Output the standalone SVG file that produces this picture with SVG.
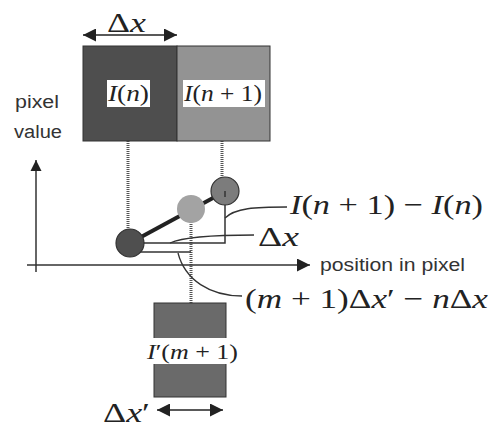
<svg xmlns="http://www.w3.org/2000/svg" width="494" height="427" viewBox="0 0 494 427">
<style>
.math{font-family:"Liberation Serif","Times New Roman","DejaVu Serif",serif;fill:#222}
.it{font-style:italic}
.sans{font-family:"Liberation Sans","DejaVu Sans",sans-serif;fill:#333;font-size:18px}
.dot{stroke:#555;stroke-width:3;stroke-dasharray:1 1;fill:none}
.ln{stroke:#333;stroke-width:1.5;fill:none}
.lead{stroke:#333;stroke-width:1.3;fill:none}
</style>
<defs>
<marker id="ah" viewBox="0 0 10 10" refX="10" refY="5" markerWidth="11" markerHeight="15" markerUnits="userSpaceOnUse" orient="auto-start-reverse">
<path d="M0,0 L10,5 L0,10 z" fill="#222"/>
</marker>
<marker id="ahs" viewBox="0 0 10 10" refX="10" refY="5" markerWidth="17" markerHeight="13" markerUnits="userSpaceOnUse" orient="auto-start-reverse">
<path d="M0,0 L10,5 L0,10 z" fill="#222"/>
</marker>
</defs>
<rect width="494" height="427" fill="#fff"/>

<g id="connectors">
<line class="dot" x1="128" y1="141" x2="128" y2="232"/>
<line class="dot" x1="222" y1="141" x2="222" y2="180"/>
<line class="dot" x1="191" y1="222" x2="191" y2="303"/>
<line x1="130" y1="243" x2="224" y2="192" stroke="#222" stroke-width="4"/>
<polyline class="ln" points="130,243 225,243 225,193"/>
<polyline class="ln" points="130,252 191,252"/>
<path class="lead" d="M225,218 C235,208 255,207 287,207"/>
<path class="lead" d="M170,243 C185,236 220,235 254,235"/>
<path class="lead" d="M178,253 C185,280 210,296 242,296"/>
<line x1="36" y1="272" x2="36" y2="160" stroke="#333" stroke-width="1.5" marker-end="url(#ah)"/>
<line x1="27" y1="265" x2="310" y2="265" stroke="#333" stroke-width="1.5" marker-end="url(#ahs)"/>
<line x1="83" y1="35" x2="177" y2="35" stroke="#222" stroke-width="1.5" marker-start="url(#ahs)" marker-end="url(#ahs)"/>
<line x1="157" y1="410" x2="223" y2="410" stroke="#222" stroke-width="1.5" marker-start="url(#ahs)" marker-end="url(#ahs)"/>
</g>

<g id="pixel-n">
<rect x="83" y="46" width="94" height="95" fill="#4e4e4e" stroke="#333" stroke-width="1"/>
<rect x="107" y="80" width="43" height="27" fill="#fff"/>
<text class="math" x="108" y="101" font-size="23" textLength="41" lengthAdjust="spacingAndGlyphs"><tspan class="it">I</tspan>(<tspan class="it">n</tspan>)</text>
</g>
<g id="pixel-n1">
<rect x="177" y="46" width="93" height="95" fill="#939393" stroke="#333" stroke-width="1"/>
<rect x="183" y="80" width="82" height="27" fill="#fff"/>
<text class="math" x="184" y="101" font-size="23" textLength="78" lengthAdjust="spacingAndGlyphs"><tspan class="it">I</tspan>(<tspan class="it">n</tspan> + 1)</text>
</g>
<g id="dx-top">
<text class="math" x="107" y="32" font-size="27" textLength="39" lengthAdjust="spacingAndGlyphs">Δ<tspan class="it">x</tspan></text>
</g>
<g id="axis-label">
<text class="sans" x="37" y="108" text-anchor="middle" textLength="44" lengthAdjust="spacingAndGlyphs">pixel</text>
<text class="sans" x="38" y="138" text-anchor="middle" textLength="48" lengthAdjust="spacingAndGlyphs">value</text>
<text class="sans" x="320" y="271" textLength="145" lengthAdjust="spacingAndGlyphs">position in pixel</text>
</g>
<g id="point-n">
<circle cx="130" cy="243" r="14" fill="#4f4f4f" stroke="#333" stroke-width="1.2"/>
</g>
<g id="point-m">
<circle cx="191" cy="209" r="14" fill="#a3a3a3"/>
</g>
<g id="point-n1">
<circle cx="225" cy="191" r="14" fill="#7c7c7c" stroke="#333" stroke-width="1.2"/>
</g>
<line x1="225" y1="191" x2="225" y2="197" stroke="#333" stroke-width="1.5"/>
<g id="label-diff">
<text class="math" x="290" y="214" font-size="28" textLength="193" lengthAdjust="spacingAndGlyphs"><tspan class="it">I</tspan>(<tspan class="it">n</tspan> + 1) − <tspan class="it">I</tspan>(<tspan class="it">n</tspan>)</text>
</g>
<g id="label-dx">
<text class="math" x="258" y="246" font-size="28" textLength="41" lengthAdjust="spacingAndGlyphs">Δ<tspan class="it">x</tspan></text>
</g>
<g id="label-m">
<text class="math" x="245" y="308" font-size="28" textLength="243" lengthAdjust="spacingAndGlyphs">(<tspan class="it">m</tspan> + 1)Δ<tspan class="it">x</tspan>′ − <tspan class="it">n</tspan>Δ<tspan class="it">x</tspan></text>
</g>
<g id="pixel-m1">
<rect x="154" y="303" width="72" height="94" fill="#6a6a6a" stroke="#333" stroke-width="1"/>
<rect x="150" y="338" width="80" height="26" fill="#fff"/>
<text class="math" x="147" y="359" font-size="22" textLength="91" lengthAdjust="spacingAndGlyphs"><tspan class="it">I</tspan>′(<tspan class="it">m</tspan> + 1)</text>
</g>
<g id="dx-bottom">
<text class="math" x="103" y="422" font-size="27" textLength="47" lengthAdjust="spacingAndGlyphs">Δ<tspan class="it">x</tspan>′</text>
</g>
</svg>
